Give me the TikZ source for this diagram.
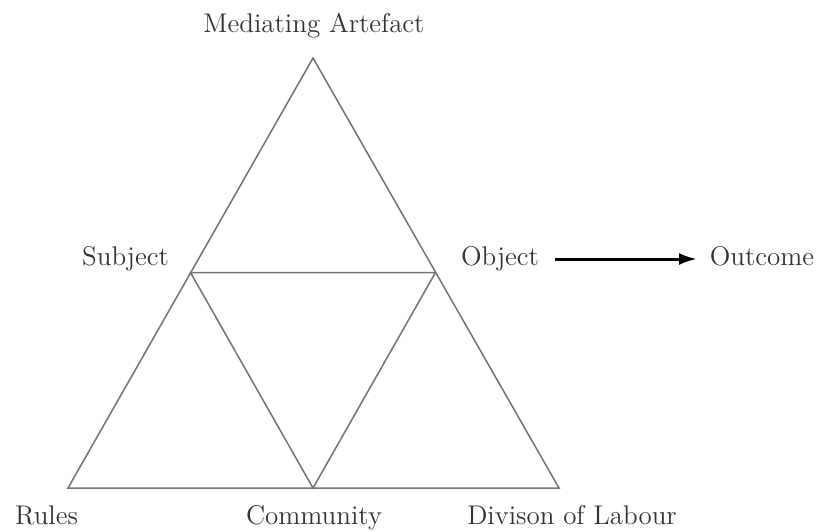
\documentclass[tikz,border=0pt]{standalone}
\usepackage{amsmath}
\usepackage{tikz}
\usetikzlibrary{arrows.meta,positioning}

\begin{document}
\begin{tikzpicture}[x=0.5pt,y=0.5pt]
\tikzstyle{every node}+=[inner sep=0pt]
\tikzstyle{lbl}=[anchor=base,font=\fontsize{13.5}{16}\selectfont,text=black!80]
\tikzstyle{edge}=[black!55,line width=0.75pt,line join=miter]
\useasboundingbox (0,0) rectangle (823,-531);
% corners of the triangle
\coordinate (apex) at (313,-58);
\coordinate (subj) at (190.5,-272.5);
\coordinate (obj) at (435.5,-272.5);
\coordinate (rules) at (68,-488);
\coordinate (comm) at (313,-488);
\coordinate (labour) at (559,-488);
% labels
\node [lbl] (mediating) at (314,-32) {Mediating Artefact};
\node [lbl] (subject) at (125.5,-265) {Subject};
\node [lbl] (object) at (500,-265) {Object};
\node [lbl] (outcome) at (762,-265) {Outcome};
\node [lbl] (ruleslbl) at (46.5,-524) {Rules};
\node [lbl] (commlbl) at (314,-524) {Community};
\node [lbl] (labourlbl) at (572,-524) {Divison of Labour};
% triangle
\draw [edge] (apex) -- (rules) -- (labour) -- cycle;
\draw [edge] (subj) -- (obj) -- (comm) -- cycle;
% arrow to outcome
\coordinate (arrstart) at (555,-259);
\coordinate (arrend) at (697,-259);
\draw [black,line width=1.5pt,-{Latex[length=9pt,width=6pt]}] (arrstart) -- (arrend);
\end{tikzpicture}
\end{document}
